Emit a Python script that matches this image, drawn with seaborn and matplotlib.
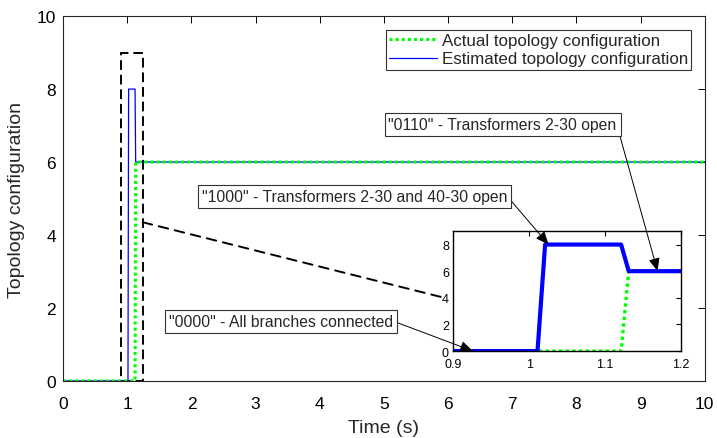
import numpy as np
import pandas as pd
import matplotlib
matplotlib.use("Agg")
import matplotlib.pyplot as plt
import seaborn as sns
from matplotlib.patches import Rectangle, ConnectionPatch
from matplotlib.lines import Line2D

# values
time = [0, 1.011, 1.021, 1.121, 1.131, 10]
actual = [0, 0, 0, 0, 6, 6]
estimated = [0, 0, 8, 8, 6, 6]

x_ticks = list(range(0, 11))
y_ticks = [0, 2, 4, 6, 8, 10]
inset_x_ticks = [0.9, 1.0, 1.1, 1.2]
inset_x_labels = ["0.9", "1", "1.1", "1.2"]
inset_y_ticks = [0, 2, 4, 6, 8]

notes = [
    ('"0110" - Transformers 2-30 open', (1.169, 6), (5.07, 7.03)),
    ('"1000" - Transformers 2-30 and 40-30 open', (1.0255, 8), (2.16, 5.06)),
    ('"0000" - All branches connected', (0.926, 0), (1.65, 1.64)),
]

GREEN = "#00ff00"
BLUE = "#0000ff"

sns.set_style("white")
plt.rcParams["font.family"] = ["Liberation Sans", "DejaVu Sans"]

df = pd.DataFrame({"t": time, "actual": actual, "est": estimated})

fig = plt.figure(figsize=(7.17, 4.39), dpi=100)
ax = fig.add_axes([0.088, 0.130, 0.895, 0.831])

sns.lineplot(data=df, x="t", y="est", ax=ax, color=BLUE, lw=0.9, sort=False)
sns.lineplot(data=df, x="t", y="actual", ax=ax, color=GREEN, lw=2.2,
             linestyle=(0, (1, 1)), sort=False)

ax.set_xlim(0, 10)
ax.set_ylim(0, 10)
ax.set_xticks(x_ticks)
ax.set_yticks(y_ticks)
ax.tick_params(direction="in", length=5, width=0.7, top=True, right=True,
               labelsize=12.5, colors="black")
ax.tick_params(axis="x", pad=11)
ax.tick_params(axis="y", pad=5)
for s in ax.spines.values():
    s.set_color("#262626")
    s.set_linewidth(0.8)
ax.set_xlabel("Time (s)", fontsize=14)
ax.set_ylabel("Topology configuration", fontsize=14)
ax.xaxis.set_label_coords(0.5, -0.104)
ax.yaxis.set_label_coords(-0.06, 0.5)

# zoom rectangle
ax.add_patch(Rectangle((0.9, 0), 0.34, 9, fill=False, ec="black", lw=1.4,
                       linestyle=(0, (5, 2.5)), zorder=1))

# legend
handles = [Line2D([], [], color=GREEN, lw=2.2, linestyle=(0, (1, 1))),
           Line2D([], [], color=BLUE, lw=0.9)]
leg = ax.legend(handles, ["Actual topology configuration",
                          "Estimated topology configuration"],
                loc="upper right", fontsize=12.2, frameon=True, fancybox=False,
                handlelength=2.8, handletextpad=0.3, borderpad=0.2,
                labelspacing=0.2, borderaxespad=0.8)
leg.get_frame().set_edgecolor("black")
leg.get_frame().set_linewidth(0.8)

# inset
axin = fig.add_axes([0.632, 0.198, 0.318, 0.273])
sns.lineplot(data=df, x="t", y="actual", ax=axin, color=GREEN, lw=2.4,
             linestyle=(0, (1, 1)), sort=False)
sns.lineplot(data=df, x="t", y="est", ax=axin, color=BLUE, lw=3, sort=False)
axin.set_xlim(0.9, 1.2)
axin.set_ylim(0, 9)
axin.set_xticks(inset_x_ticks)
axin.set_xticklabels(inset_x_labels)
axin.set_yticks(inset_y_ticks)
axin.set_xlabel("")
axin.set_ylabel("")
axin.tick_params(direction="in", length=3.5, width=0.8, top=True, right=True,
                 labelsize=9, colors="black")
axin.tick_params(axis="x", pad=5)
axin.tick_params(axis="y", pad=3)
for s in axin.spines.values():
    s.set_color("black")
    s.set_linewidth(1.0)

con = ConnectionPatch(xyA=(1.24, 4.35), coordsA=ax.transData,
                      xyB=(0.885, 4.05), coordsB=axin.transData,
                      color="black", lw=1.4, linestyle=(0, (5, 3.5)))
fig.add_artist(con)

for text, tip, pos in notes:
    axin.annotate(text, xy=tip, xycoords="data", xytext=pos,
                  textcoords=ax.transData, ha="left", va="center",
                  fontsize=11.3, annotation_clip=False, clip_on=False,
                  bbox=dict(boxstyle="square,pad=0.25", fc="white",
                            ec="#333333", lw=0.8),
                  arrowprops=dict(arrowstyle="-|>,head_length=0.7,head_width=0.3",
                                  color="black", lw=0.7, relpos=(1, 0.5),
                                  shrinkA=0, shrinkB=0))

fig.savefig("out.png", dpi=100)
